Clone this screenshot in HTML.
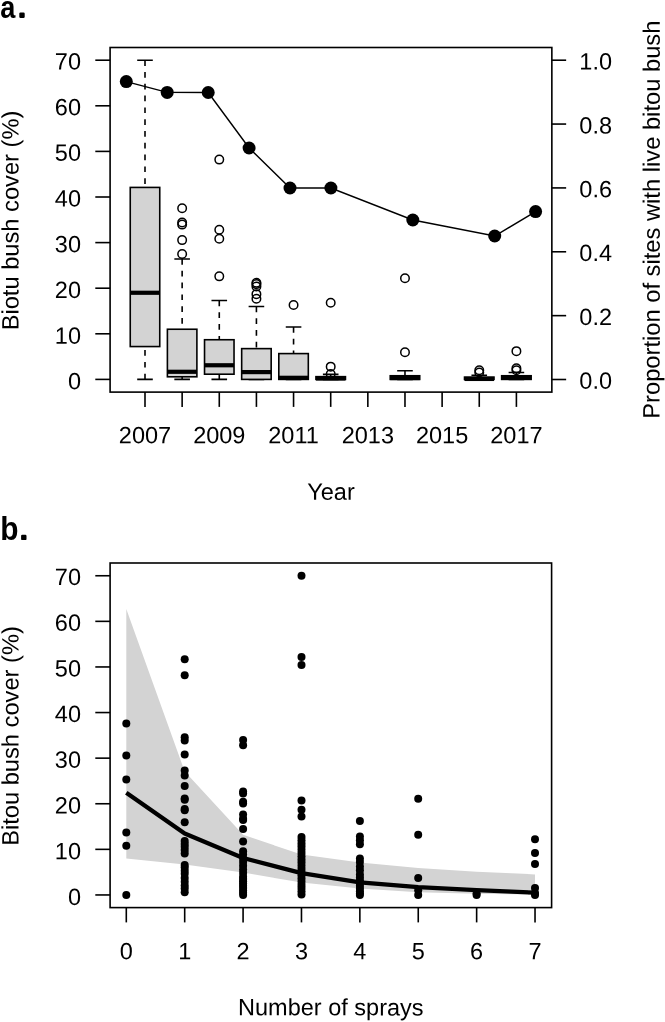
<!DOCTYPE html><html><head><meta charset="utf-8"><title>Bitou bush cover</title>
<style>html,body{margin:0;padding:0;background:#fff}svg{display:block}text{font-family:"Liberation Sans",sans-serif;fill:#000}</style></head><body>
<svg width="665" height="1022" viewBox="0 0 665 1022">
<rect x="0" y="0" width="665" height="1022" fill="#fff"/>
<defs><filter id="soft" x="0" y="0" width="100%" height="100%" filterUnits="userSpaceOnUse" color-interpolation-filters="sRGB"><feGaussianBlur stdDeviation="0.45"/></filter></defs>
<g filter="url(#soft)">
<rect x="0" y="0" width="665" height="1022" fill="#fff"/>
<g id="panelA">
<path d="M145.00 60.20V187.42M145.00 379.40V346.57" stroke="#000" stroke-width="1.6" stroke-dasharray="5.7 6.1" fill="none"/>
<path d="M137.20 60.20H152.80M137.20 379.40H152.80" stroke="#000" stroke-width="1.6" fill="none"/>
<rect x="130.25" y="187.42" width="29.50" height="159.14" fill="#d3d3d3" stroke="#000" stroke-width="1.6"/>
<path d="M130.25 292.76H159.75" stroke="#000" stroke-width="4.2" fill="none"/>
<path d="M182.14 259.02V329.24M182.14 379.40V376.80" stroke="#000" stroke-width="1.6" stroke-dasharray="5.7 6.1" fill="none"/>
<path d="M174.34 259.02H189.94M174.34 379.40H189.94" stroke="#000" stroke-width="1.6" fill="none"/>
<rect x="167.39" y="329.24" width="29.50" height="47.56" fill="#d3d3d3" stroke="#000" stroke-width="1.6"/>
<path d="M167.39 371.78H196.89" stroke="#000" stroke-width="4.2" fill="none"/>
<circle cx="182.14" cy="208.17" r="4.25" fill="none" stroke="#000" stroke-width="1.5"/>
<circle cx="182.14" cy="222.54" r="4.25" fill="none" stroke="#000" stroke-width="1.5"/>
<circle cx="182.14" cy="224.59" r="4.25" fill="none" stroke="#000" stroke-width="1.5"/>
<circle cx="182.14" cy="240.09" r="4.25" fill="none" stroke="#000" stroke-width="1.5"/>
<circle cx="182.14" cy="254.00" r="4.25" fill="none" stroke="#000" stroke-width="1.5"/>
<path d="M219.28 300.51V339.73M219.28 379.40V374.20" stroke="#000" stroke-width="1.6" stroke-dasharray="5.7 6.1" fill="none"/>
<path d="M211.48 300.51H227.08M211.48 379.40H227.08" stroke="#000" stroke-width="1.6" fill="none"/>
<rect x="204.53" y="339.73" width="29.50" height="34.47" fill="#d3d3d3" stroke="#000" stroke-width="1.6"/>
<path d="M204.53 365.26H234.03" stroke="#000" stroke-width="4.2" fill="none"/>
<circle cx="219.28" cy="159.61" r="4.25" fill="none" stroke="#000" stroke-width="1.5"/>
<circle cx="219.28" cy="229.83" r="4.25" fill="none" stroke="#000" stroke-width="1.5"/>
<circle cx="219.28" cy="238.72" r="4.25" fill="none" stroke="#000" stroke-width="1.5"/>
<circle cx="219.28" cy="276.34" r="4.25" fill="none" stroke="#000" stroke-width="1.5"/>
<path d="M256.42 306.44V348.62M256.42 379.40V379.40" stroke="#000" stroke-width="1.6" stroke-dasharray="5.7 6.1" fill="none"/>
<path d="M248.62 306.44H264.22M248.62 379.40H264.22" stroke="#000" stroke-width="1.6" fill="none"/>
<rect x="241.67" y="348.62" width="29.50" height="30.78" fill="#d3d3d3" stroke="#000" stroke-width="1.6"/>
<path d="M241.67 372.10H271.17" stroke="#000" stroke-width="4.2" fill="none"/>
<circle cx="256.42" cy="298.69" r="4.25" fill="none" stroke="#000" stroke-width="1.5"/>
<circle cx="256.42" cy="294.13" r="4.25" fill="none" stroke="#000" stroke-width="1.5"/>
<circle cx="256.42" cy="286.38" r="4.25" fill="none" stroke="#000" stroke-width="1.5"/>
<circle cx="256.42" cy="284.10" r="4.25" fill="none" stroke="#000" stroke-width="1.5"/>
<circle cx="256.42" cy="282.73" r="4.25" fill="none" stroke="#000" stroke-width="1.5"/>
<path d="M293.56 326.96V353.59M293.56 379.40V379.40" stroke="#000" stroke-width="1.6" stroke-dasharray="5.7 6.1" fill="none"/>
<path d="M285.76 326.96H301.36M285.76 379.40H301.36" stroke="#000" stroke-width="1.6" fill="none"/>
<rect x="278.81" y="353.59" width="29.50" height="25.81" fill="#d3d3d3" stroke="#000" stroke-width="1.6"/>
<path d="M278.81 377.80H308.31" stroke="#000" stroke-width="4.2" fill="none"/>
<circle cx="293.56" cy="305.07" r="4.25" fill="none" stroke="#000" stroke-width="1.5"/>
<path d="M330.70 374.38V376.66M330.70 379.40V379.40" stroke="#000" stroke-width="1.6" stroke-dasharray="5.7 6.1" fill="none"/>
<path d="M322.90 374.38H338.50M322.90 379.40H338.50" stroke="#000" stroke-width="1.6" fill="none"/>
<rect x="315.95" y="376.66" width="29.50" height="2.74" fill="#d3d3d3" stroke="#000" stroke-width="1.6"/>
<path d="M315.95 378.49H345.45" stroke="#000" stroke-width="4.2" fill="none"/>
<circle cx="330.70" cy="302.79" r="4.25" fill="none" stroke="#000" stroke-width="1.5"/>
<circle cx="330.70" cy="366.63" r="4.25" fill="none" stroke="#000" stroke-width="1.5"/>
<circle cx="330.70" cy="373.93" r="4.25" fill="none" stroke="#000" stroke-width="1.5"/>
<path d="M404.98 370.74V375.75M404.98 379.40V379.40" stroke="#000" stroke-width="1.6" stroke-dasharray="5.7 6.1" fill="none"/>
<path d="M397.18 370.74H412.78M397.18 379.40H412.78" stroke="#000" stroke-width="1.6" fill="none"/>
<rect x="390.23" y="375.75" width="29.50" height="3.65" fill="#d3d3d3" stroke="#000" stroke-width="1.6"/>
<path d="M390.23 378.03H419.73" stroke="#000" stroke-width="4.2" fill="none"/>
<circle cx="404.98" cy="278.17" r="4.25" fill="none" stroke="#000" stroke-width="1.5"/>
<circle cx="404.98" cy="352.22" r="4.25" fill="none" stroke="#000" stroke-width="1.5"/>
<path d="M479.26 375.30V377.12M479.26 379.40V379.40" stroke="#000" stroke-width="1.6" stroke-dasharray="5.7 6.1" fill="none"/>
<path d="M471.46 375.30H487.06M471.46 379.40H487.06" stroke="#000" stroke-width="1.6" fill="none"/>
<rect x="464.51" y="377.12" width="29.50" height="2.28" fill="#d3d3d3" stroke="#000" stroke-width="1.6"/>
<path d="M464.51 378.94H494.01" stroke="#000" stroke-width="4.2" fill="none"/>
<circle cx="479.26" cy="370.28" r="4.25" fill="none" stroke="#000" stroke-width="1.5"/>
<circle cx="479.26" cy="372.56" r="4.25" fill="none" stroke="#000" stroke-width="1.5"/>
<path d="M516.40 372.56V375.75M516.40 379.40V379.40" stroke="#000" stroke-width="1.6" stroke-dasharray="5.7 6.1" fill="none"/>
<path d="M508.60 372.56H524.20M508.60 379.40H524.20" stroke="#000" stroke-width="1.6" fill="none"/>
<rect x="501.65" y="375.75" width="29.50" height="3.65" fill="#d3d3d3" stroke="#000" stroke-width="1.6"/>
<path d="M501.65 377.80H531.15" stroke="#000" stroke-width="4.2" fill="none"/>
<circle cx="516.40" cy="351.13" r="4.25" fill="none" stroke="#000" stroke-width="1.5"/>
<circle cx="516.40" cy="368.23" r="4.25" fill="none" stroke="#000" stroke-width="1.5"/>
<circle cx="516.40" cy="370.28" r="4.25" fill="none" stroke="#000" stroke-width="1.5"/>
<polyline points="126.3,81.6 167.2,92.4 208.2,92.5 249.1,148.0 290.0,188.0 330.9,188.0 412.8,220.0 494.7,236.0 535.6,211.6" fill="none" stroke="#000" stroke-width="1.45"/>
<circle cx="126.3" cy="81.6" r="6.5" fill="#000"/>
<circle cx="167.2" cy="92.4" r="6.5" fill="#000"/>
<circle cx="208.2" cy="92.5" r="6.5" fill="#000"/>
<circle cx="249.1" cy="148.0" r="6.5" fill="#000"/>
<circle cx="290.0" cy="188.0" r="6.5" fill="#000"/>
<circle cx="330.9" cy="188.0" r="6.5" fill="#000"/>
<circle cx="412.8" cy="220.0" r="6.5" fill="#000"/>
<circle cx="494.7" cy="236.0" r="6.5" fill="#000"/>
<circle cx="535.6" cy="211.6" r="6.5" fill="#000"/>
<rect x="110.1" y="47.5" width="441.75" height="344.60" fill="none" stroke="#000" stroke-width="1.6"/>
<path d="M110.1 379.40H95.30" stroke="#000" stroke-width="1.6"/>
<text transform="translate(81.00 389.35) rotate(0.03)" font-size="23.5" text-anchor="end">0</text>
<path d="M110.1 333.80H95.30" stroke="#000" stroke-width="1.6"/>
<text transform="translate(81.00 343.65) rotate(0.03)" font-size="23.5" text-anchor="end">10</text>
<path d="M110.1 288.20H95.30" stroke="#000" stroke-width="1.6"/>
<text transform="translate(81.00 297.95) rotate(0.03)" font-size="23.5" text-anchor="end">20</text>
<path d="M110.1 242.60H95.30" stroke="#000" stroke-width="1.6"/>
<text transform="translate(81.00 252.25) rotate(0.03)" font-size="23.5" text-anchor="end">30</text>
<path d="M110.1 197.00H95.30" stroke="#000" stroke-width="1.6"/>
<text transform="translate(81.00 206.55) rotate(0.03)" font-size="23.5" text-anchor="end">40</text>
<path d="M110.1 151.40H95.30" stroke="#000" stroke-width="1.6"/>
<text transform="translate(81.00 160.85) rotate(0.03)" font-size="23.5" text-anchor="end">50</text>
<path d="M110.1 105.80H95.30" stroke="#000" stroke-width="1.6"/>
<text transform="translate(81.00 115.15) rotate(0.03)" font-size="23.5" text-anchor="end">60</text>
<path d="M110.1 60.20H95.30" stroke="#000" stroke-width="1.6"/>
<text transform="translate(81.00 69.45) rotate(0.03)" font-size="23.5" text-anchor="end">70</text>
<path d="M551.85 379.50H566.15" stroke="#000" stroke-width="1.6"/>
<text transform="translate(612.00 388.85) rotate(0.03)" font-size="23.5" text-anchor="end">0.0</text>
<path d="M551.85 315.64H566.15" stroke="#000" stroke-width="1.6"/>
<text transform="translate(612.00 324.99) rotate(0.03)" font-size="23.5" text-anchor="end">0.2</text>
<path d="M551.85 251.78H566.15" stroke="#000" stroke-width="1.6"/>
<text transform="translate(612.00 261.13) rotate(0.03)" font-size="23.5" text-anchor="end">0.4</text>
<path d="M551.85 187.92H566.15" stroke="#000" stroke-width="1.6"/>
<text transform="translate(612.00 197.27) rotate(0.03)" font-size="23.5" text-anchor="end">0.6</text>
<path d="M551.85 124.06H566.15" stroke="#000" stroke-width="1.6"/>
<text transform="translate(612.00 133.41) rotate(0.03)" font-size="23.5" text-anchor="end">0.8</text>
<path d="M551.85 60.20H566.15" stroke="#000" stroke-width="1.6"/>
<text transform="translate(612.00 69.55) rotate(0.03)" font-size="23.5" text-anchor="end">1.0</text>
<path d="M145.00 392.1V406.90" stroke="#000" stroke-width="1.6"/>
<path d="M182.14 392.1V406.90" stroke="#000" stroke-width="1.6"/>
<path d="M219.28 392.1V406.90" stroke="#000" stroke-width="1.6"/>
<path d="M256.42 392.1V406.90" stroke="#000" stroke-width="1.6"/>
<path d="M293.56 392.1V406.90" stroke="#000" stroke-width="1.6"/>
<path d="M330.70 392.1V406.90" stroke="#000" stroke-width="1.6"/>
<path d="M367.84 392.1V406.90" stroke="#000" stroke-width="1.6"/>
<path d="M404.98 392.1V406.90" stroke="#000" stroke-width="1.6"/>
<path d="M442.12 392.1V406.90" stroke="#000" stroke-width="1.6"/>
<path d="M479.26 392.1V406.90" stroke="#000" stroke-width="1.6"/>
<path d="M516.40 392.1V406.90" stroke="#000" stroke-width="1.6"/>
<text transform="translate(145.00 443.25) rotate(0.03)" font-size="23.5" text-anchor="middle">2007</text>
<text transform="translate(219.28 443.25) rotate(0.03)" font-size="23.5" text-anchor="middle">2009</text>
<text transform="translate(293.56 443.25) rotate(0.03)" font-size="23.5" text-anchor="middle">2011</text>
<text transform="translate(367.84 443.25) rotate(0.03)" font-size="23.5" text-anchor="middle">2013</text>
<text transform="translate(442.12 443.25) rotate(0.03)" font-size="23.5" text-anchor="middle">2015</text>
<text transform="translate(516.40 443.25) rotate(0.03)" font-size="23.5" text-anchor="middle">2017</text>
<text transform="translate(331.00 499.65) rotate(0.03)" font-size="23.5" text-anchor="middle">Year</text>
<text transform="translate(18.50 220.50) rotate(-89.97)" font-size="23.68" text-anchor="middle">Biotu bush cover (%)</text>
<text transform="translate(659.70 219.70) rotate(-89.97)" font-size="23.72" text-anchor="middle">Proportion of sites with live bitou bush</text>
<text transform="translate(0.3 17.8) scale(0.85 1)" font-size="32" font-weight="bold">a</text>
<rect x="19.3" y="12.6" width="5.4" height="5.3" rx="1.2" fill="#000"/>
</g>
<g id="panelB">
<polygon points="126.3,609.0 184.7,771.4 243.1,834.8 301.5,854.6 359.9,862.6 418.2,868.0 476.6,871.7 535.0,874.4 535.0,894.5 476.6,893.8 418.2,892.2 359.9,888.6 301.5,882.6 243.1,872.6 184.7,864.4 126.3,858.5" fill="#d3d3d3"/>
<circle cx="126.3" cy="723.5" r="4.0" fill="#000"/>
<circle cx="126.3" cy="755.4" r="4.0" fill="#000"/>
<circle cx="126.3" cy="779.6" r="4.0" fill="#000"/>
<circle cx="126.3" cy="832.5" r="4.0" fill="#000"/>
<circle cx="126.3" cy="845.7" r="4.0" fill="#000"/>
<circle cx="126.3" cy="895.0" r="4.0" fill="#000"/>
<circle cx="184.7" cy="659.2" r="4.0" fill="#000"/>
<circle cx="184.7" cy="675.2" r="4.0" fill="#000"/>
<circle cx="184.7" cy="737.2" r="4.0" fill="#000"/>
<circle cx="184.7" cy="740.4" r="4.0" fill="#000"/>
<circle cx="184.7" cy="754.5" r="4.0" fill="#000"/>
<circle cx="184.7" cy="770.5" r="4.0" fill="#000"/>
<circle cx="184.7" cy="775.5" r="4.0" fill="#000"/>
<circle cx="184.7" cy="786.1" r="4.0" fill="#000"/>
<circle cx="184.7" cy="798.6" r="4.0" fill="#000"/>
<circle cx="184.7" cy="799.8" r="4.0" fill="#000"/>
<circle cx="184.7" cy="808.9" r="4.0" fill="#000"/>
<circle cx="184.7" cy="810.3" r="4.0" fill="#000"/>
<circle cx="184.7" cy="822.2" r="4.0" fill="#000"/>
<circle cx="184.7" cy="841.1" r="4.0" fill="#000"/>
<circle cx="184.7" cy="843.9" r="4.0" fill="#000"/>
<circle cx="184.7" cy="846.8" r="4.0" fill="#000"/>
<circle cx="184.7" cy="849.9" r="4.0" fill="#000"/>
<circle cx="184.7" cy="853.5" r="4.0" fill="#000"/>
<circle cx="184.7" cy="864.9" r="4.0" fill="#000"/>
<circle cx="184.7" cy="867.6" r="4.0" fill="#000"/>
<circle cx="184.7" cy="870.8" r="4.0" fill="#000"/>
<circle cx="184.7" cy="873.7" r="4.0" fill="#000"/>
<circle cx="184.7" cy="878.1" r="4.0" fill="#000"/>
<circle cx="184.7" cy="881.7" r="4.0" fill="#000"/>
<circle cx="184.7" cy="885.4" r="4.0" fill="#000"/>
<circle cx="184.7" cy="888.4" r="4.0" fill="#000"/>
<circle cx="184.7" cy="892.2" r="4.0" fill="#000"/>
<circle cx="243.1" cy="739.9" r="4.0" fill="#000"/>
<circle cx="243.1" cy="745.2" r="4.0" fill="#000"/>
<circle cx="243.1" cy="791.4" r="4.0" fill="#000"/>
<circle cx="243.1" cy="793.4" r="4.0" fill="#000"/>
<circle cx="243.1" cy="801.7" r="4.0" fill="#000"/>
<circle cx="243.1" cy="803.4" r="4.0" fill="#000"/>
<circle cx="243.1" cy="814.5" r="4.0" fill="#000"/>
<circle cx="243.1" cy="818.8" r="4.0" fill="#000"/>
<circle cx="243.1" cy="819.9" r="4.0" fill="#000"/>
<circle cx="243.1" cy="829.1" r="4.0" fill="#000"/>
<circle cx="243.1" cy="841.4" r="4.0" fill="#000"/>
<circle cx="243.1" cy="851.2" r="4.0" fill="#000"/>
<circle cx="243.1" cy="854.4" r="4.0" fill="#000"/>
<circle cx="243.1" cy="858.5" r="4.0" fill="#000"/>
<circle cx="243.1" cy="862.1" r="4.0" fill="#000"/>
<circle cx="243.1" cy="865.8" r="4.0" fill="#000"/>
<circle cx="243.1" cy="869.4" r="4.0" fill="#000"/>
<circle cx="243.1" cy="873.1" r="4.0" fill="#000"/>
<circle cx="243.1" cy="876.7" r="4.0" fill="#000"/>
<circle cx="243.1" cy="879.0" r="4.0" fill="#000"/>
<circle cx="243.1" cy="881.3" r="4.0" fill="#000"/>
<circle cx="243.1" cy="883.6" r="4.0" fill="#000"/>
<circle cx="243.1" cy="885.8" r="4.0" fill="#000"/>
<circle cx="243.1" cy="888.1" r="4.0" fill="#000"/>
<circle cx="243.1" cy="890.4" r="4.0" fill="#000"/>
<circle cx="243.1" cy="892.7" r="4.0" fill="#000"/>
<circle cx="243.1" cy="895.0" r="4.0" fill="#000"/>
<circle cx="301.5" cy="575.8" r="4.0" fill="#000"/>
<circle cx="301.5" cy="657.1" r="4.0" fill="#000"/>
<circle cx="301.5" cy="665.1" r="4.0" fill="#000"/>
<circle cx="301.5" cy="800.6" r="4.0" fill="#000"/>
<circle cx="301.5" cy="809.7" r="4.0" fill="#000"/>
<circle cx="301.5" cy="816.5" r="4.0" fill="#000"/>
<circle cx="301.5" cy="837.0" r="4.0" fill="#000"/>
<circle cx="301.5" cy="840.2" r="4.0" fill="#000"/>
<circle cx="301.5" cy="843.4" r="4.0" fill="#000"/>
<circle cx="301.5" cy="846.6" r="4.0" fill="#000"/>
<circle cx="301.5" cy="849.8" r="4.0" fill="#000"/>
<circle cx="301.5" cy="853.0" r="4.0" fill="#000"/>
<circle cx="301.5" cy="856.2" r="4.0" fill="#000"/>
<circle cx="301.5" cy="859.4" r="4.0" fill="#000"/>
<circle cx="301.5" cy="862.6" r="4.0" fill="#000"/>
<circle cx="301.5" cy="865.8" r="4.0" fill="#000"/>
<circle cx="301.5" cy="869.0" r="4.0" fill="#000"/>
<circle cx="301.5" cy="872.2" r="4.0" fill="#000"/>
<circle cx="301.5" cy="875.3" r="4.0" fill="#000"/>
<circle cx="301.5" cy="878.5" r="4.0" fill="#000"/>
<circle cx="301.5" cy="881.7" r="4.0" fill="#000"/>
<circle cx="301.5" cy="884.9" r="4.0" fill="#000"/>
<circle cx="301.5" cy="888.1" r="4.0" fill="#000"/>
<circle cx="301.5" cy="891.3" r="4.0" fill="#000"/>
<circle cx="301.5" cy="894.5" r="4.0" fill="#000"/>
<circle cx="359.9" cy="821.1" r="4.0" fill="#000"/>
<circle cx="359.9" cy="836.6" r="4.0" fill="#000"/>
<circle cx="359.9" cy="840.2" r="4.0" fill="#000"/>
<circle cx="359.9" cy="844.3" r="4.0" fill="#000"/>
<circle cx="359.9" cy="858.5" r="4.0" fill="#000"/>
<circle cx="359.9" cy="862.1" r="4.0" fill="#000"/>
<circle cx="359.9" cy="866.5" r="4.0" fill="#000"/>
<circle cx="359.9" cy="870.3" r="4.0" fill="#000"/>
<circle cx="359.9" cy="874.4" r="4.0" fill="#000"/>
<circle cx="359.9" cy="877.6" r="4.0" fill="#000"/>
<circle cx="359.9" cy="880.4" r="4.0" fill="#000"/>
<circle cx="359.9" cy="883.1" r="4.0" fill="#000"/>
<circle cx="359.9" cy="885.8" r="4.0" fill="#000"/>
<circle cx="359.9" cy="888.6" r="4.0" fill="#000"/>
<circle cx="359.9" cy="891.3" r="4.0" fill="#000"/>
<circle cx="359.9" cy="893.6" r="4.0" fill="#000"/>
<circle cx="359.9" cy="895.0" r="4.0" fill="#000"/>
<circle cx="418.2" cy="798.7" r="4.0" fill="#000"/>
<circle cx="418.2" cy="834.8" r="4.0" fill="#000"/>
<circle cx="418.2" cy="878.1" r="4.0" fill="#000"/>
<circle cx="418.2" cy="890.2" r="4.0" fill="#000"/>
<circle cx="418.2" cy="895.0" r="4.0" fill="#000"/>
<circle cx="476.6" cy="895.0" r="4.0" fill="#000"/>
<circle cx="476.6" cy="893.6" r="4.0" fill="#000"/>
<circle cx="535.0" cy="839.3" r="4.0" fill="#000"/>
<circle cx="535.0" cy="853.0" r="4.0" fill="#000"/>
<circle cx="535.0" cy="863.9" r="4.0" fill="#000"/>
<circle cx="535.0" cy="888.1" r="4.0" fill="#000"/>
<circle cx="535.0" cy="893.1" r="4.0" fill="#000"/>
<circle cx="535.0" cy="895.0" r="4.0" fill="#000"/>
<polyline points="126.3,792.8 184.7,833.6 243.1,858.0 301.5,873.2 359.9,882.3 418.2,887.2 476.6,890.2 535.0,892.7" fill="none" stroke="#000" stroke-width="4.3" stroke-linejoin="round"/>
<rect x="110.1" y="563.0" width="441.50" height="344.60" fill="none" stroke="#000" stroke-width="1.6"/>
<path d="M110.1 894.95H95.30" stroke="#000" stroke-width="1.6"/>
<text transform="translate(81.00 904.90) rotate(0.03)" font-size="23.5" text-anchor="end">0</text>
<path d="M110.1 849.35H95.30" stroke="#000" stroke-width="1.6"/>
<text transform="translate(81.00 859.20) rotate(0.03)" font-size="23.5" text-anchor="end">10</text>
<path d="M110.1 803.75H95.30" stroke="#000" stroke-width="1.6"/>
<text transform="translate(81.00 813.50) rotate(0.03)" font-size="23.5" text-anchor="end">20</text>
<path d="M110.1 758.15H95.30" stroke="#000" stroke-width="1.6"/>
<text transform="translate(81.00 767.80) rotate(0.03)" font-size="23.5" text-anchor="end">30</text>
<path d="M110.1 712.55H95.30" stroke="#000" stroke-width="1.6"/>
<text transform="translate(81.00 722.10) rotate(0.03)" font-size="23.5" text-anchor="end">40</text>
<path d="M110.1 666.95H95.30" stroke="#000" stroke-width="1.6"/>
<text transform="translate(81.00 676.40) rotate(0.03)" font-size="23.5" text-anchor="end">50</text>
<path d="M110.1 621.35H95.30" stroke="#000" stroke-width="1.6"/>
<text transform="translate(81.00 630.70) rotate(0.03)" font-size="23.5" text-anchor="end">60</text>
<path d="M110.1 575.75H95.30" stroke="#000" stroke-width="1.6"/>
<text transform="translate(81.00 585.00) rotate(0.03)" font-size="23.5" text-anchor="end">70</text>
<path d="M126.30 907.6V922.40" stroke="#000" stroke-width="1.6"/>
<text transform="translate(126.30 959.15) rotate(0.03)" font-size="23.5" text-anchor="middle">0</text>
<path d="M184.69 907.6V922.40" stroke="#000" stroke-width="1.6"/>
<text transform="translate(184.69 959.15) rotate(0.03)" font-size="23.5" text-anchor="middle">1</text>
<path d="M243.08 907.6V922.40" stroke="#000" stroke-width="1.6"/>
<text transform="translate(243.08 959.15) rotate(0.03)" font-size="23.5" text-anchor="middle">2</text>
<path d="M301.47 907.6V922.40" stroke="#000" stroke-width="1.6"/>
<text transform="translate(301.47 959.15) rotate(0.03)" font-size="23.5" text-anchor="middle">3</text>
<path d="M359.86 907.6V922.40" stroke="#000" stroke-width="1.6"/>
<text transform="translate(359.86 959.15) rotate(0.03)" font-size="23.5" text-anchor="middle">4</text>
<path d="M418.25 907.6V922.40" stroke="#000" stroke-width="1.6"/>
<text transform="translate(418.25 959.15) rotate(0.03)" font-size="23.5" text-anchor="middle">5</text>
<path d="M476.64 907.6V922.40" stroke="#000" stroke-width="1.6"/>
<text transform="translate(476.64 959.15) rotate(0.03)" font-size="23.5" text-anchor="middle">6</text>
<path d="M535.03 907.6V922.40" stroke="#000" stroke-width="1.6"/>
<text transform="translate(535.03 959.15) rotate(0.03)" font-size="23.5" text-anchor="middle">7</text>
<text transform="translate(330.80 1015.35) rotate(0.03)" font-size="23.5" text-anchor="middle">Number of sprays</text>
<text transform="translate(18.50 736.00) rotate(-89.97)" font-size="23.68" text-anchor="middle">Bitou bush cover (%)</text>
<text transform="translate(0.2 540.0) scale(0.92 1)" font-size="32.5" font-weight="bold">b</text>
<rect x="21.1" y="534.8" width="5.4" height="5.3" rx="1.2" fill="#000"/>
</g>
</g>
</svg></body></html>
